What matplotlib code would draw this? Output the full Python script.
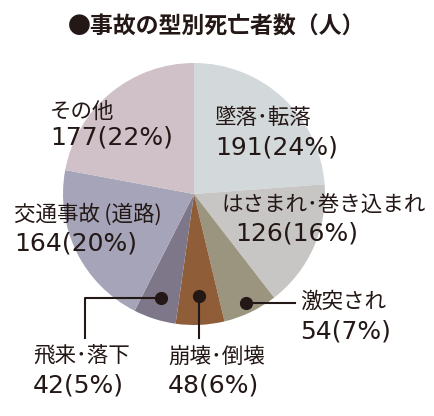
import numpy as np
import matplotlib.pyplot as plt

plt.rcParams['font.family'] = ['Noto Sans CJK JP', 'DejaVu Sans']

# data
labels = ["墜落･転落", "はさまれ･巻き込まれ", "激突され", "崩壊･倒壊",
          "飛来･落下", "交通事故\u2009(道路)", "その他"]
values = [191, 126, 54, 48, 42, 164, 177]
percents = [24, 16, 7, 6, 5, 20, 22]
colors = ["#d3d8db", "#c8c6c5", "#9b9580", "#8f5d38",
          "#7d7789", "#a5a4b8", "#d0c1c8"]

ink = "#231815"
W, H = 434, 416

fig = plt.figure(figsize=(W / 100, H / 100), dpi=100)
ax = fig.add_axes([0, 0, 1, 1])

cx, cy, R = 194, H - 194, 131
wedges, _ = ax.pie(values, colors=colors, startangle=90, counterclock=False,
                   center=(cx, cy), radius=R, frame=True,
                   wedgeprops=dict(linewidth=0))
ax.set_xlim(0, W)
ax.set_ylim(0, H)
ax.set_aspect("equal")
ax.axis("off")

fig.text(0.5, 1 - 27 / H, "●事故の型別死亡者数（人）", ha="center", va="center",
         fontsize=16.5, fontweight="bold", color=ink)

# label positions (pixel coords from top-left): name line, number line
pos = {
    0: (215, 118, 215, 148),
    1: (222, 206, 235, 233),
    2: (300, 302, 300, 331),
    3: (168, 357, 168, 386),
    4: (33, 357, 33, 386),
    5: (14, 215, 14, 243),
    6: (50, 112, 50, 138),
}
for i, (lx, ly, nx, ny) in pos.items():
    ax.text(lx, H - ly, labels[i], fontsize=15.5, color=ink, va="center", ha="left")
    ax.text(nx, H - ny, f"{values[i]}({percents[i]}%)", fontsize=18, color=ink,
            va="center", ha="left", family="DejaVu Sans")

# leader dots for the small slices
def mid_point(w, frac):
    a = np.deg2rad((w.theta1 + w.theta2) / 2)
    return cx + frac * R * np.cos(a), cy + frac * R * np.sin(a)

x2, y2 = mid_point(wedges[2], 0.92)
ax.plot([x2, 295], [y2, y2], color=ink, lw=1.5)
ax.plot(x2, y2, "o", color=ink, ms=8.5)

x3, y3 = mid_point(wedges[3], 0.78)
ax.plot([x3, x3], [y3, H - 338], color=ink, lw=1.5)
ax.plot(x3, y3, "o", color=ink, ms=8.5)

x4, y4 = mid_point(wedges[4], 0.83)
ax.plot([x4, 85, 85], [y4, y4, H - 338], color=ink, lw=1.5)
ax.plot(x4, y4, "o", color=ink, ms=8.5)

fig.savefig("out.png", dpi=100, facecolor="white")
